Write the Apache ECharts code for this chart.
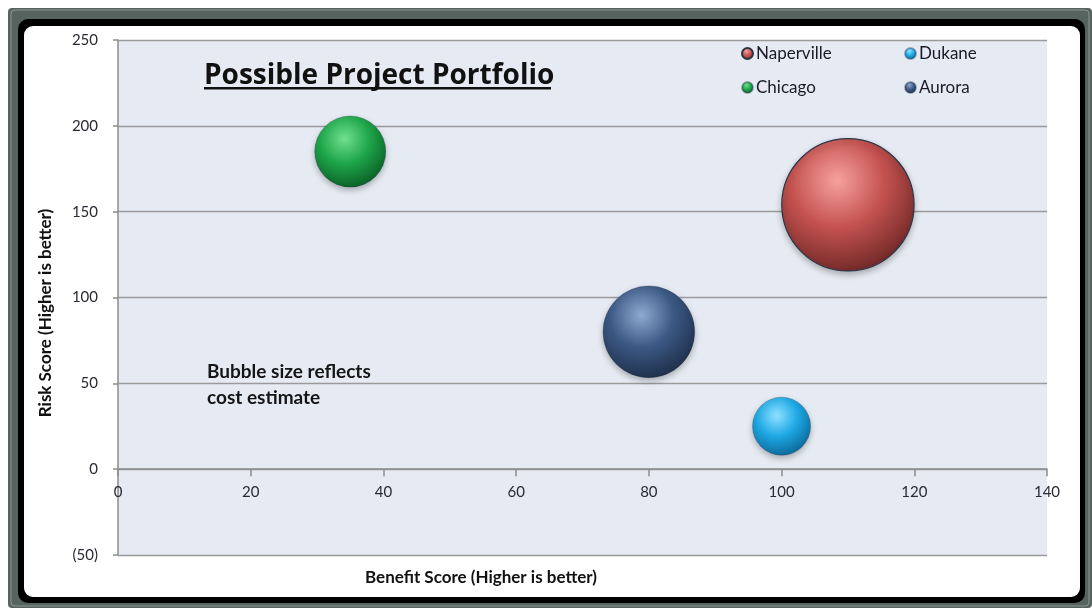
<!DOCTYPE html>
<html>
<head>
<meta charset="utf-8">
<script src="https://cdn.jsdelivr.net/npm/echarts@6/dist/echarts.min.js"></script>
<style>
  html, body { margin: 0; padding: 0; background: #ffffff; }
  #chart { width: 1092px; height: 608px; }
</style>
</head>
<body>
<div id="chart"></div>
<script>
// Project portfolio: benefit vs. risk, bubble area = cost estimate
const projects = ['Naperville', 'Dukane', 'Chicago', 'Aurora'];
const benefitScore = [110, 100, 35, 80];
const riskScore = [154, 25, 185, 80];
const costEstimate = [5.2, 1.0, 1.5, 2.5];

const xMin = 0, xMax = 140, xStep = 20;
const yMin = -50, yMax = 250, yStep = 50;

// plot box in pixels
const gridBox = { left: 118, top: 40, right: 45, bottom: 53 };
const plotHeight = 608 - gridBox.top - gridBox.bottom;
// lift the x axis from the bottom edge up to the y = 0 line
const xAxisLift = plotHeight * (0 - yMin) / (yMax - yMin);

// sphere shading per project: [highlight, base, shadow]
const palette = {
  Naperville: ['#f6a19e', '#c4524f', '#5e201f'],
  Dukane: ['#8fe1ff', '#1ea8e4', '#075a86'],
  Chicago: ['#6fe08f', '#1ea54a', '#07501f'],
  Aurora: ['#8eaad2', '#3b5884', '#18263d']
};

const FONT = 'Lato, "Open Sans", sans-serif';

function sphere(name) {
  const c = palette[name];
  return {
    type: 'radial', x: 0.42, y: 0.32, r: 0.78,
    colorStops: [
      { offset: 0, color: c[0] },
      { offset: 0.45, color: c[1] },
      { offset: 1, color: c[2] }
    ]
  };
}

const series = projects.map((name, i) => ({
  name: name,
  type: 'scatter',
  data: [[benefitScore[i], riskScore[i], costEstimate[i]]],
  symbolSize: v => 58 * Math.sqrt(v[2]),
  itemStyle: {
    color: sphere(name),
    opacity: 1,
    borderColor: name === 'Naperville' ? '#2c3447' : 'rgba(30,40,60,0.35)',
    borderWidth: name === 'Naperville' ? 1.2 : 0.8,
    shadowBlur: 6,
    shadowOffsetY: 3,
    shadowColor: 'rgba(0,0,0,0.28)'
  },
  emphasis: { scale: false }
}));

const legendSpots = [
  { left: 736, top: 40 },
  { left: 899, top: 40 },
  { left: 736, top: 74 },
  { left: 899, top: 74 }
];

const legends = projects.map((name, i) => ({
  data: [name],
  left: legendSpots[i].left,
  top: legendSpots[i].top,
  icon: 'circle',
  itemWidth: 11,
  itemHeight: 11,
  itemGap: 4,
  textStyle: { fontFamily: FONT, fontSize: 17, color: '#1a1a28', padding: [0, 0, 0, -2] },
  selectedMode: false
}));

const chart = echarts.init(document.getElementById('chart'), null, { renderer: 'canvas' });

chart.setOption({
  animation: false,
  backgroundColor: 'transparent',
  legend: legends,
  grid: {
    left: gridBox.left, top: gridBox.top, right: gridBox.right, bottom: gridBox.bottom,
    show: true, backgroundColor: '#e6ebf3', borderWidth: 0
  },
  xAxis: {
    type: 'value', min: xMin, max: xMax, interval: xStep,
    position: 'bottom', offset: -xAxisLift,
    axisLine: { onZero: false, lineStyle: { color: '#8c8c8c', width: 1.5 } },
    axisTick: { show: true, length: 7, lineStyle: { color: '#8c8c8c', width: 1.5 } },
    axisLabel: { margin: 15, fontFamily: FONT, fontSize: 15, color: '#2a2a35' },
    splitLine: { show: false }
  },
  yAxis: {
    type: 'value', min: yMin, max: yMax, interval: yStep,
    axisLine: { show: true, lineStyle: { color: '#8c8c8c', width: 1.5 } },
    axisTick: { show: true, length: 5, lineStyle: { color: '#8c8c8c', width: 1.5 } },
    axisLabel: {
      margin: 20, fontFamily: FONT, fontSize: 15, color: '#2a2a35',
      formatter: v => (v < 0 ? '(' + Math.abs(v) + ')' : String(v))
    },
    splitLine: { show: true, lineStyle: { color: '#9a9a9a', width: 1.3 } }
  },
  graphic: [
    // window frame
    { type: 'rect', z: -10, silent: true, shape: { x: 8, y: 8, width: 1084, height: 600, r: 4 }, style: { fill: '#56635f' } },
    { type: 'rect', z: -9, silent: true, shape: { x: 11, y: 10, width: 1078, height: 596, r: 4 }, style: { fill: 'none', stroke: '#8a9692', lineWidth: 1 } },
    { type: 'rect', z: -8, silent: true, shape: { x: 18, y: 19, width: 1067, height: 584, r: 10 }, style: { fill: '#000000' } },
    { type: 'rect', z: -7, silent: true, shape: { x: 24, y: 26, width: 1056, height: 571, r: 9 }, style: { fill: '#ffffff' } },
    // title
    {
      type: 'text', x: 204, y: 76, z: 10, silent: true,
      style: { text: 'Possible Project Portfolio', font: 'bold 28px "Open Sans", sans-serif', fill: '#111111', align: 'left', verticalAlign: 'middle' }
    },
    {
      type: 'rect', z: 10, silent: true,
      shape: { x: 204, y: 87, width: 347, height: 2.5 }, style: { fill: '#111111' }
    },
    // annotation
    {
      type: 'text', left: 207, top: 359, z: 10, silent: true,
      style: { text: 'Bubble size reflects\ncost estimate', font: 'bold 19px ' + FONT, lineHeight: 26, fill: '#151515' }
    },
    // axis titles
    {
      type: 'text', z: 10, silent: true, x: 46, y: 313, rotation: Math.PI / 2,
      style: { text: 'Risk Score (Higher is better)', font: 'bold 17px ' + FONT, fill: '#111111', align: 'center', verticalAlign: 'middle' }
    },
    {
      type: 'text', z: 10, silent: true, x: 481, y: 578,
      style: { text: 'Benefit Score (Higher is better)', font: 'bold 17px ' + FONT, fill: '#111111', align: 'center', verticalAlign: 'middle' }
    }
  ],
  series: series
});
</script>
</body>
</html>
